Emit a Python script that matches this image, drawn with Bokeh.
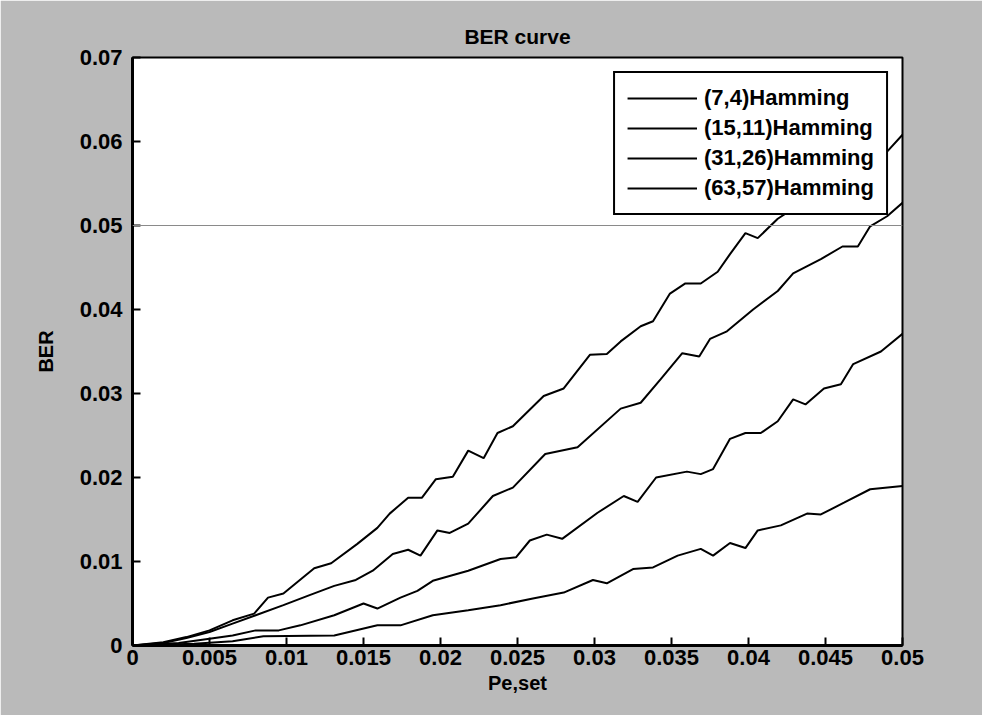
from bokeh.plotting import figure
from bokeh.models import Range1d, FixedTicker, Legend, LegendItem, Span
from bokeh.embed import file_html
from bokeh.resources import INLINE

# ---- data ----
x_h74 = [0, 0.002, 0.0035, 0.005, 0.0065, 0.0079, 0.0088, 0.0098, 0.0118, 0.0129, 0.0146, 0.0159,
         0.0167, 0.0179, 0.0188, 0.0197, 0.0208, 0.0218, 0.0228, 0.0237, 0.0247, 0.0267, 0.028,
         0.0297, 0.0308, 0.0317, 0.033, 0.0338, 0.0349, 0.0359, 0.0369, 0.038, 0.0388, 0.0398,
         0.0406, 0.0419, 0.0429, 0.044, 0.046, 0.048, 0.049, 0.05]
y_h74 = [0, 0.0004, 0.0010, 0.0018, 0.0030, 0.0038, 0.0057, 0.0062, 0.0092, 0.0098, 0.0121, 0.0140,
         0.0157, 0.0176, 0.0176, 0.0198, 0.0201, 0.0232, 0.0223, 0.0253, 0.0261, 0.0297, 0.0306,
         0.0346, 0.0347, 0.0362, 0.0380, 0.0386, 0.0419, 0.0431, 0.0431, 0.0445, 0.0466, 0.0491,
         0.0485, 0.0508, 0.0520, 0.0533, 0.0552, 0.0575, 0.0588, 0.0608]

x_h1511 = [0, 0.002, 0.0035, 0.005, 0.0065, 0.008, 0.0098, 0.0115, 0.0131, 0.0145, 0.0156, 0.0169,
           0.0179, 0.0187, 0.0198, 0.0206, 0.0218, 0.0234, 0.0247, 0.0268, 0.0289, 0.0317, 0.033,
           0.0343, 0.0357, 0.0368, 0.0375, 0.0386, 0.0403, 0.0419, 0.0429, 0.0447, 0.0461, 0.0471,
           0.0479, 0.049, 0.05]
y_h1511 = [0, 0.0003, 0.0009, 0.0016, 0.0026, 0.0036, 0.0048, 0.0060, 0.0071, 0.0078, 0.0089, 0.0109,
           0.0114, 0.0107, 0.0137, 0.0134, 0.0145, 0.0178, 0.0188, 0.0228, 0.0236, 0.0282, 0.0289,
           0.0317, 0.0348, 0.0344, 0.0365, 0.0374, 0.0400, 0.0422, 0.0443, 0.0460, 0.0475, 0.0475,
           0.0499, 0.0511, 0.0527]

x_h3126 = [0, 0.003, 0.005, 0.0065, 0.008, 0.0095, 0.0109, 0.0131, 0.015, 0.0159, 0.0174, 0.0185,
           0.0195, 0.0218, 0.0239, 0.0249, 0.0258, 0.0269, 0.0279, 0.0302, 0.0319, 0.0328, 0.034,
           0.036, 0.0369, 0.0377, 0.0388, 0.0398, 0.0408, 0.0419, 0.0429, 0.0437, 0.0449, 0.046,
           0.0468, 0.0486, 0.05]
y_h3126 = [0, 0.0003, 0.0008, 0.0012, 0.0018, 0.0018, 0.0024, 0.0036, 0.0050, 0.0044, 0.0057, 0.0065,
           0.0077, 0.0089, 0.0103, 0.0105, 0.0125, 0.0132, 0.0127, 0.0158, 0.0178, 0.0171, 0.0200,
           0.0207, 0.0204, 0.0210, 0.0246, 0.0253, 0.0253, 0.0267, 0.0293, 0.0287, 0.0306, 0.0311,
           0.0335, 0.0350, 0.0371]

x_h6357 = [0, 0.004, 0.0065, 0.0085, 0.0131, 0.0159, 0.0174, 0.0195, 0.0218, 0.0239, 0.026, 0.028,
           0.0299, 0.0308, 0.0325, 0.0338, 0.0354, 0.0369, 0.0377, 0.0388, 0.0398, 0.0406, 0.0421,
           0.0438, 0.0447, 0.0462, 0.0479, 0.05]
y_h6357 = [0, 0.0002, 0.0005, 0.0011, 0.0012, 0.0024, 0.0024, 0.0036, 0.0042, 0.0048, 0.0056, 0.0063,
           0.0078, 0.0074, 0.0091, 0.0093, 0.0107, 0.0115, 0.0107, 0.0122, 0.0116, 0.0137, 0.0143,
           0.0157, 0.0156, 0.0170, 0.0186, 0.0190]

series_names = ["(7,4)Hamming", "(15,11)Hamming", "(31,26)Hamming", "(63,57)Hamming"]

x_ticks = [0, 0.005, 0.01, 0.015, 0.02, 0.025, 0.03, 0.035, 0.04, 0.045, 0.05]
x_tick_labels = ["0", "0.005", "0.01", "0.015", "0.02", "0.025", "0.03", "0.035", "0.04", "0.045", "0.05"]
y_ticks = [0, 0.01, 0.02, 0.03, 0.04, 0.05, 0.06, 0.07]
y_tick_labels = ["0", "0.01", "0.02", "0.03", "0.04", "0.05", "0.06", "0.07"]

FONT = "Liberation Sans"
BG = "#bababa"

p = figure(width=982, height=715, output_backend="svg", toolbar_location=None,
           x_range=Range1d(0, 0.05), y_range=Range1d(0, 0.07),
           min_border_left=132, min_border_right=80, min_border_top=57, min_border_bottom=70,
           background_fill_color="white", border_fill_color=BG)
p.sizing_mode = "fixed"

p.title.text = "BER curve"
p.title.align = "center"
p.title.text_font = FONT
p.title.text_font_size = "21px"
p.title.text_font_style = "bold"
p.title.text_color = "black"
p.title.standoff = 20

p.grid.visible = False
p.outline_line_color = "black"
p.outline_line_width = 2
p.outline_line_alpha = 1

for ax in (p.xaxis[0], p.yaxis[0]):
    ax.axis_line_width = 3
    ax.axis_line_color = "black"
    ax.major_tick_in = 8
    ax.major_tick_out = 0
    ax.major_tick_line_width = 2
    ax.minor_tick_in = 0
    ax.minor_tick_out = 0
    ax.major_label_text_font = FONT
    ax.major_label_text_font_size = "22px"
    ax.major_label_text_font_style = "bold"
    ax.major_label_text_color = "black"
    ax.axis_label_text_font = FONT
    ax.axis_label_text_font_size = "20px"
    ax.axis_label_text_font_style = "bold"
    ax.axis_label_text_color = "black"

p.xaxis[0].ticker = FixedTicker(ticks=x_ticks)
p.xaxis[0].major_label_overrides = {t: l for t, l in zip(x_ticks, x_tick_labels)}
p.yaxis[0].ticker = FixedTicker(ticks=y_ticks)
p.yaxis[0].major_label_overrides = {t: l for t, l in zip(y_ticks, y_tick_labels)}
p.xaxis[0].axis_label = "Pe,set"
p.yaxis[0].axis_label = "BER"
p.xaxis[0].major_label_standoff = 4
p.yaxis[0].major_label_standoff = 10
p.xaxis[0].axis_label_standoff = 4
p.yaxis[0].axis_label_standoff = 20

# scan artifact line
p.add_layout(Span(location=0.05, dimension="width", line_color="#8a8a8a", line_width=1))

xs = [x_h74, x_h1511, x_h3126, x_h6357]
ys = [y_h74, y_h1511, y_h3126, y_h6357]
items = []
for xv, yv, name in zip(xs, ys, series_names):
    r = p.line(xv, yv, line_color="black", line_width=2)
    items.append(LegendItem(label=name, renderers=[r]))

legend = Legend(items=items, location="top_right")
legend.margin = 14
legend.padding = 12
legend.spacing = 4
legend.label_text_font = FONT
legend.label_text_font_size = "22px"
legend.label_text_font_style = "bold"
legend.label_text_color = "black"
legend.label_height = 26
legend.label_standoff = 7
legend.glyph_width = 70
legend.glyph_height = 26
legend.border_line_color = "black"
legend.border_line_width = 2
legend.border_line_alpha = 1
legend.background_fill_color = "white"
legend.background_fill_alpha = 1
p.add_layout(legend)

open("out.html", "w").write(file_html(p, INLINE))
